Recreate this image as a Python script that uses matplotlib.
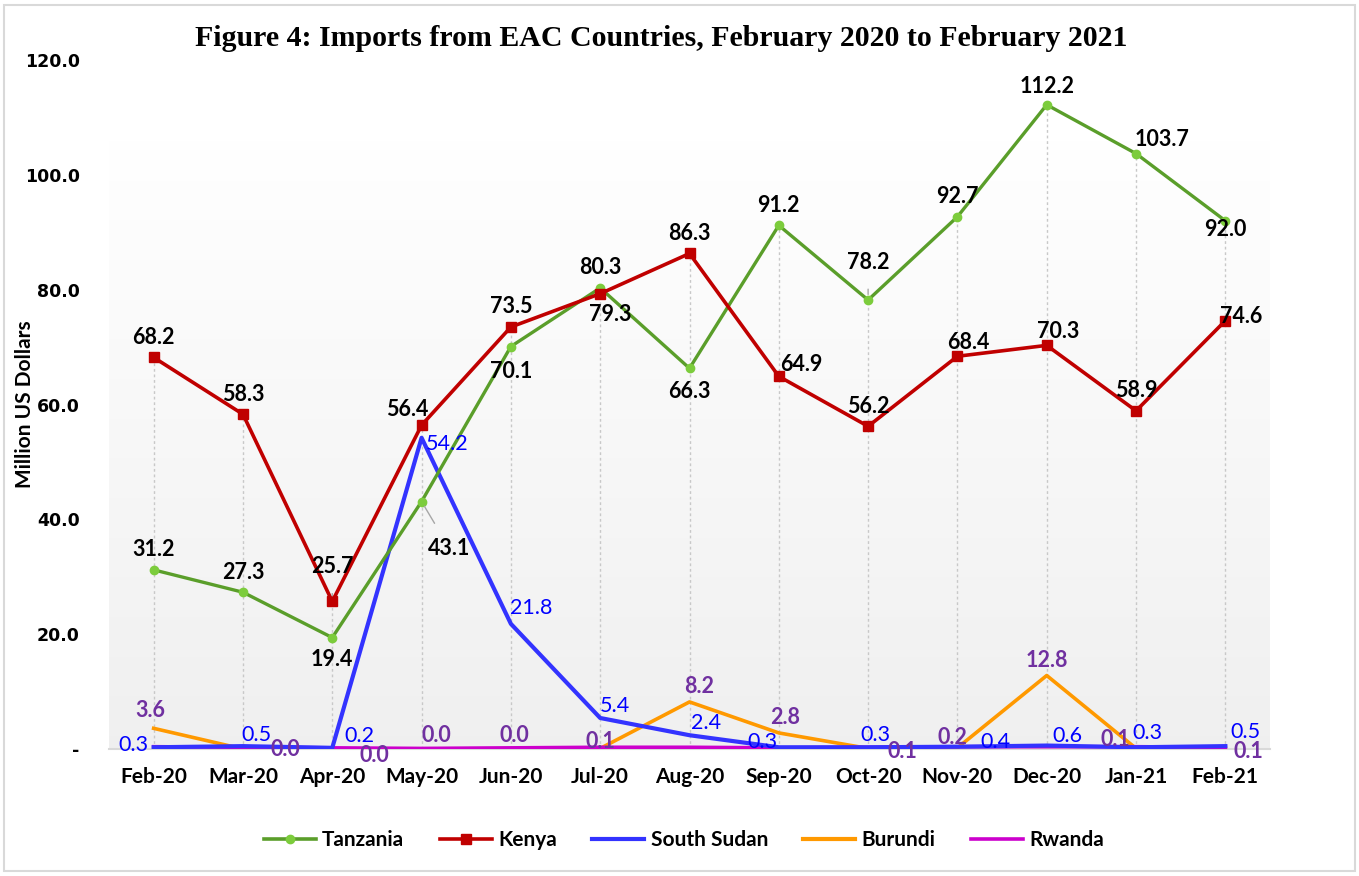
import numpy as np
import matplotlib
matplotlib.use("Agg")
import matplotlib.pyplot as plt
from matplotlib.lines import Line2D
from matplotlib.patches import Rectangle

months = ["Feb-20", "Mar-20", "Apr-20", "May-20", "Jun-20", "Jul-20", "Aug-20",
          "Sep-20", "Oct-20", "Nov-20", "Dec-20", "Jan-21", "Feb-21"]
tanzania = [31.2, 27.3, 19.4, 43.1, 70.1, 80.3, 66.3, 91.2, 78.2, 92.7, 112.2, 103.7, 92.0]
kenya = [68.2, 58.3, 25.7, 56.4, 73.5, 79.3, 86.3, 64.9, 56.2, 68.4, 70.3, 58.9, 74.6]
south_sudan = [0.3, 0.5, 0.2, 54.2, 21.8, 5.4, 2.4, 0.3, 0.3, 0.4, 0.6, 0.3, 0.5]
burundi = [3.6, 0.0, 0.0, 0.0, 0.0, 0.1, 8.2, 2.8, 0.1, 0.2, 12.8, 0.1, 0.1]
rwanda = [0.4, 0.3, 0.2, 0.1, 0.2, 0.3, 0.3, 0.2, 0.3, 0.4, 0.4, 0.4, 0.3]
yticks = [0, 20, 40, 60, 80, 100, 120]
yticklabels = ["-", "20.0", "40.0", "60.0", "80.0", "100.0", "120.0"]

# label offsets in pixels (styling)
tz_off = [(0, 20), (0, 20), (0, -22), (28, -47), (0, -25), (0, 20), (0, -23), (0, 20),
          (0, 38), (0, 20), (0, 18), (26, 14), (0, -9)]
ke_off = [(0, 20), (0, 20), (0, 35), (-14, 16), (0, 20), (10, -21), (0, 20), (23, 12),
          (0, 20), (11, 14), (11, 14), (0, 20), (16, 4)]
ss_off = [(-20, 2), (13, 11), (27, 12), (26, -6), (20, 16), (15, 12), (17, 12), (-16, 5),
          (7, 12), (38, 5), (21, 10), (11, 14), (20, 14)]
bu_off = [(-3, 18), (42, -1), (42, -7), (15, 14), (3, 14), (0, 7), (10, 15), (6, 15),
          (34, -3), (-5, 10), (0, 15), (-21, 9), (23, -3)]

W, H = 1359, 876
fig = plt.figure(figsize=(W / 100, H / 100), dpi=100)
fig.patch.set_facecolor("white")
ax = fig.add_axes([109 / W, (H - 749) / H, (1270 - 109) / W, (749 - 60) / H])
ax.set_facecolor("white")

x = np.arange(len(months))
ax.set_xlim(-0.5, len(months) - 0.5)
ax.set_ylim(0, 120)

# gradient plot area
grad = np.linspace(1.0, 0.0, 256).reshape(-1, 1)
top_c = np.array([1.0, 1.0, 1.0])
bot_c = np.array([0.94, 0.94, 0.94])
img = top_c * grad[..., None] + bot_c * (1 - grad[..., None])
ax.imshow(img, extent=[-0.5, len(months) - 0.5, 0, 106], aspect="auto", zorder=0,
          interpolation="bilinear")

# drop lines
maxv = np.max(np.vstack([tanzania, kenya, south_sudan, burundi, rwanda]), axis=0)
ax.vlines(x, 0, maxv, colors="#c8c8c8", linestyles=(0, (2, 2)), linewidth=1.0, zorder=1)

ax.plot(x, burundi, color="#ff9900", lw=2.6, zorder=3)
ax.plot(x, rwanda, color="#cc00cc", lw=2.6, zorder=3)
ax.plot(x, south_sudan, color="#3333ff", lw=3.0, zorder=4)
ax.plot(x, tanzania, color="#5a9e2a", lw=2.4, zorder=5, marker="o", ms=6,
        mfc="#7ccc3c", mec="#7ccc3c")
ax.plot(x, kenya, color="#c00000", lw=2.6, zorder=6, marker="s", ms=6.5,
        mfc="#c00000", mec="#c00000")

FAM = ["Lato", "DejaVu Sans"]
lab_font = dict(family=FAM, fontsize=15.5)

def put_labels(vals, offs, color, weight, leaders=()):
    for i, (v, o) in enumerate(zip(vals, offs)):
        kw = {}
        if i in leaders:
            kw["arrowprops"] = dict(arrowstyle="-", color="#a6a6a6", lw=1.0,
                                    shrinkA=10, shrinkB=4)
        ax.annotate(f"{v:.1f}", (x[i], v), xytext=o, textcoords="offset pixels",
                    ha="center", va="center", color=color, fontweight=weight,
                    zorder=8, annotation_clip=False, **lab_font, **kw)

put_labels(tanzania, tz_off, "black", "bold", leaders=(3, 8))
put_labels(kenya, ke_off, "black", "bold", leaders=(2,))
put_labels(south_sudan, ss_off, "#0000ff", "normal")
put_labels(burundi, bu_off, "#7030a0", "bold")

# axes styling
for s in ["top", "right", "left"]:
    ax.spines[s].set_visible(False)
ax.spines["bottom"].set_color("#d9d9d9")
ax.spines["bottom"].set_linewidth(1.5)
ax.spines["bottom"].set_zorder(2)
ax.set_xticks(x)
ax.set_xticklabels(months, fontsize=15, fontweight="bold", family=FAM)
ax.set_yticks(yticks)
ax.set_yticklabels(yticklabels, fontsize=12.5, fontweight="bold", family=["DejaVu Sans"])
ax.tick_params(axis="x", length=0, pad=13)
ax.tick_params(axis="y", length=0, pad=21)
ax.set_ylabel("Million US Dollars", fontsize=15, fontweight="bold", family=FAM)
ax.yaxis.set_label_coords((35 - 109) / (1270 - 109), 0.5)

fig.text(661 / W, 1 - 39 / H, "Figure 4: Imports from EAC Countries, February 2020 to February 2021",
         ha="center", va="center", fontsize=21.5, fontweight="bold",
         family=["Liberation Serif", "DejaVu Serif"])

handles = [
    Line2D([], [], color="#5a9e2a", lw=2.6, marker="o", ms=6, mfc="#7ccc3c", mec="#7ccc3c"),
    Line2D([], [], color="#c00000", lw=2.6, marker="s", ms=6.5),
    Line2D([], [], color="#3333ff", lw=3.0),
    Line2D([], [], color="#ff9900", lw=3.0),
    Line2D([], [], color="#cc00cc", lw=2.6),
]
names = ["Tanzania", "Kenya", "South Sudan", "Burundi", "Rwanda"]
fig.legend(handles, names, loc="center", bbox_to_anchor=(684 / W, 1 - 840 / H), ncol=5,
           frameon=False, handlelength=2.5, handletextpad=0.3, columnspacing=1.7,
           prop=dict(family=FAM, weight="bold", size=15))

fig.add_artist(Rectangle((4 / W, 5 / H), (W - 8) / W, (H - 10) / H, transform=fig.transFigure,
                         fill=False, edgecolor="#d9d9d9", lw=1.5))

fig.savefig("out.png", dpi=100)
